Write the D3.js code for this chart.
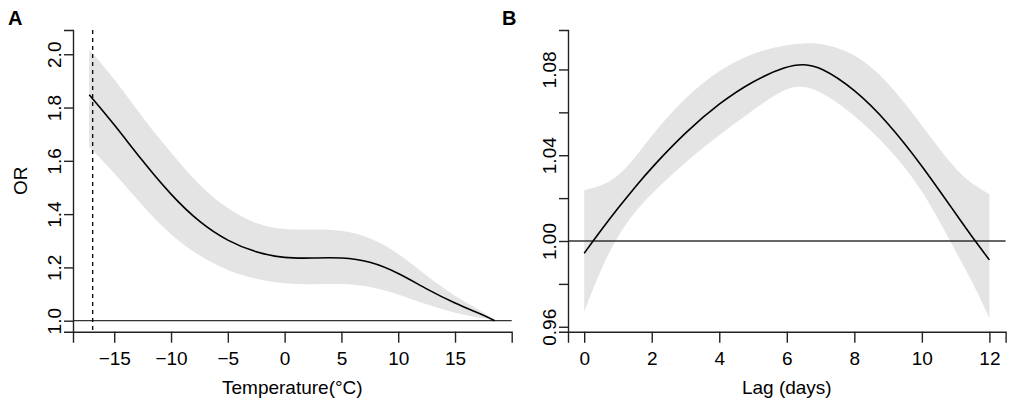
<!DOCTYPE html>
<html>
<head>
<meta charset="utf-8">
<script src="https://cdn.jsdelivr.net/npm/d3@7"></script>
<style>
  body { margin: 0; background: #fff; }
  svg { display: block; font-family: "Liberation Sans", Arial, sans-serif; }
</style>
</head>
<body>
<svg id="chart" width="1013" height="403"></svg>
<script>
// Panel A: cumulative OR by temperature
const tempX    = [-17.2, -15, -12.5, -10, -7.5, -5, -2.5, 0, 2.5, 5, 7.5, 10, 12.5, 15, 17.5, 18.5];
const tempFit  = [1.848, 1.737, 1.598, 1.471, 1.368, 1.298, 1.255, 1.234, 1.235, 1.238, 1.224, 1.180, 1.118, 1.065, 1.021, 1.000];
const tempHigh = [2.018, 1.910, 1.760, 1.630, 1.505, 1.418, 1.360, 1.340, 1.343, 1.342, 1.315, 1.255, 1.168, 1.090, 1.034, 1.000];
const tempLow  = [1.653, 1.555, 1.430, 1.318, 1.242, 1.186, 1.155, 1.138, 1.136, 1.140, 1.130, 1.100, 1.060, 1.028, 1.009, 1.000];
const tempRef  = -16.9;
const tempXTicks = [-15, -10, -5, 0, 5, 10, 15];
const tempYTicks = [1.0, 1.2, 1.4, 1.6, 1.8, 2.0];

// Panel B: OR by lag
const lagX    = [0, 0.5, 1, 1.5, 2, 3, 4, 5, 6, 6.5, 7, 8, 9, 10, 11, 11.5, 12];
const lagFit  = [0.9943, 1.0051, 1.0153, 1.0251, 1.0343, 1.0508, 1.0643, 1.0748, 1.0816, 1.0826, 1.0812, 1.0710, 1.0553, 1.0353, 1.0128, 1.0016, 0.9912];
const lagHigh = [1.0237, 1.0255, 1.0300, 1.0385, 1.0494, 1.0673, 1.0800, 1.0880, 1.0915, 1.0922, 1.0924, 1.0880, 1.0745, 1.0540, 1.0330, 1.0265, 1.0218];
const lagLow  = [0.9670, 0.9873, 1.0028, 1.0137, 1.0222, 1.0370, 1.0494, 1.0611, 1.0719, 1.0722, 1.0700, 1.0590, 1.0440, 1.0248, 0.9950, 0.9810, 0.9640];
const lagXTicks = [0, 2, 4, 6, 8, 10, 12];
const lagYTicks = [0.96, 0.98, 1.00, 1.02, 1.04, 1.06, 1.08];
const lagYLabels = [0.96, 1.00, 1.04, 1.08];

const svg = d3.select('#chart');
const plotTop = 30, plotBottom = 331.7;
const fs = 19;

function panel(opt) {
  const x = d3.scaleLinear().domain(opt.xDomain).range([opt.left, opt.right]);
  const y = d3.scaleLinear().domain(opt.yDomain).range([plotBottom, plotTop]);
  const g = svg.append('g');

  const rows = opt.xs.map((v, i) => ({ x: v, fit: opt.fit[i], hi: opt.hi[i], lo: opt.lo[i] }));

  // confidence band
  g.append('path')
    .datum(rows)
    .attr('fill', '#e4e4e4')
    .attr('d', d3.area().curve(d3.curveBasis)
      .x(d => x(d.x)).y0(d => y(d.lo)).y1(d => y(d.hi)));

  // reference line OR = 1
  g.append('line')
    .attr('x1', opt.left).attr('x2', opt.right)
    .attr('y1', y(1)).attr('y2', y(1))
    .attr('stroke', '#333').attr('stroke-width', 1.3);

  if (opt.vline != null) {
    g.append('line')
      .attr('x1', x(opt.vline)).attr('x2', x(opt.vline))
      .attr('y1', plotTop).attr('y2', plotBottom)
      .attr('stroke', '#111').attr('stroke-width', 1.4)
      .attr('stroke-dasharray', '4,4');
  }

  // fitted curve
  g.append('path')
    .datum(rows)
    .attr('fill', 'none')
    .attr('stroke', '#000')
    .attr('stroke-width', 1.6)
    .attr('d', d3.line().curve(d3.curveBasis).x(d => x(d.x)).y(d => y(d.fit)));

  // x axis
  const xa = g.append('g').attr('transform', `translate(0,${plotBottom})`)
    .call(d3.axisBottom(x).tickValues(opt.xTicks).tickSizeOuter(0).tickSize(11).tickPadding(9)
      .tickFormat(d => d3.format('d')(d).replace('-', '\u2212')));
  xa.attr('font-family', null).attr('font-size', null);
  xa.selectAll('path, line').attr('stroke', '#222').attr('stroke-width', 1.4);
  xa.selectAll('text').attr('fill', '#000').attr('font-size', fs);

  // y axis, labels parallel to the axis
  const ya = g.append('g').attr('transform', `translate(${opt.left},0)`)
    .call(d3.axisLeft(y).tickValues(opt.yTicks).tickSizeOuter(0).tickSize(9)
      .tickFormat(d => opt.yLabels.some(v => Math.abs(v - d) < 1e-9) ? d3.format(opt.yFmt)(d) : ''));
  ya.attr('font-family', null).attr('font-size', null);
  ya.selectAll('path, line').attr('stroke', '#222').attr('stroke-width', 1.4);
  ya.selectAll('text')
    .attr('x', null).attr('dy', null)
    .attr('transform', 'translate(-12,0) rotate(-90)')
    .attr('text-anchor', 'middle')
    .attr('fill', '#000').attr('font-size', fs);

  // axis titles
  g.append('text')
    .attr('x', (opt.left + opt.right) / 2).attr('y', 394)
    .attr('text-anchor', 'middle').attr('font-size', fs)
    .text(opt.xTitle);
  if (opt.yTitle) {
    g.append('text')
      .attr('transform', `translate(27,${(plotTop + plotBottom) / 2}) rotate(-90)`)
      .attr('text-anchor', 'middle').attr('font-size', fs)
      .text(opt.yTitle);
  }

  // panel letter
  g.append('text')
    .attr('x', opt.letterX).attr('y', 25)
    .attr('font-size', 20).attr('font-weight', 'bold')
    .text(opt.letter);
}

panel({
  left: 73, right: 511.7,
  xDomain: [-18.63, 19.99], yDomain: [0.9587, 2.091],
  xs: tempX, fit: tempFit, hi: tempHigh, lo: tempLow,
  vline: tempRef,
  xTicks: tempXTicks, yTicks: tempYTicks, yLabels: tempYTicks, yFmt: '.1f',
  xTitle: 'Temperature(°C)', yTitle: 'OR',
  letter: 'A', letterX: 8
});

panel({
  left: 568, right: 1005.6,
  xDomain: [-0.48, 12.48], yDomain: [0.9577, 1.0984],
  xs: lagX, fit: lagFit, hi: lagHigh, lo: lagLow,
  vline: null,
  xTicks: lagXTicks, yTicks: lagYTicks, yLabels: lagYLabels, yFmt: '.2f',
  xTitle: 'Lag (days)', yTitle: null,
  letter: 'B', letterX: 502
});
</script>
</body>
</html>
